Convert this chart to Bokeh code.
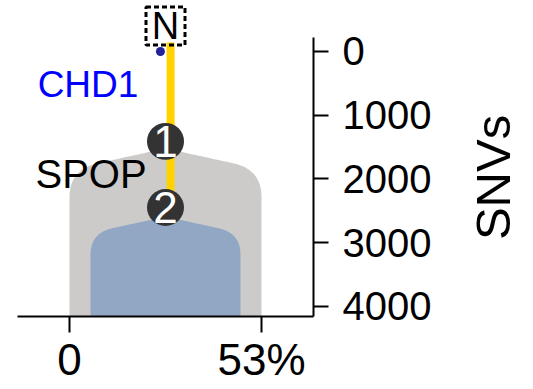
import numpy as np
from bokeh.plotting import figure
from bokeh.models import Range1d, FixedTicker, ColumnDataSource
from bokeh.core.properties import value
from bokeh.embed import file_html
from bokeh.resources import INLINE

# ---- data ----
clone_center = [26.5, 26.5]          # % position of clone centre
clone_halfwidth = [26.5, 20.7]       # half of clone fraction (%)
clone_start_snv = [1520, 2590]       # SNVs where clone shape begins
clone_colors = ["#cccbc9", "#91a7c4"]
node_x = [26.5, 26.5]
node_snv = [1410, 2447]
node_labels = ["1", "2"]
trunk_x = 27.9
trunk_top_snv = -140
normal_x = 26.5
normal_snv = -400
driver_labels = ["CHD1", "SPOP"]
driver_colors = ["#0000ff", "#000000"]
driver_x = [-8.8, -9.4]
driver_snv = [518, 1922]
driver_sizes = ["37px", "40px"]
chd1_dot_x = [25.1]
chd1_dot_snv = [0]
x_ticks = [0, 53]
x_tick_labels = {0: "0", 53: "53%"}
y_ticks = [0, 1000, 2000, 3000, 4000]

FONT = "Liberation Sans"
X_LEFT, X_RIGHT = -19.05, 128.09
Y_TOP, Y_BOTTOM = -800, 5302
X_AXIS_START, X_AXIS_END = -14.35, 67.35
Y_AXIS_START, Y_AXIS_END = -220, 4157

p = figure(width=533, height=389, output_backend="svg", toolbar_location=None,
           x_range=Range1d(X_LEFT, X_RIGHT), y_range=Range1d(Y_BOTTOM, Y_TOP),
           y_axis_location="right", min_border_left=0, min_border_right=0,
           min_border_top=0, min_border_bottom=0)
p.outline_line_color = None
p.grid.visible = False
p.background_fill_color = "white"


def clone_shape(c, hw, y0, slope_frac=0.71, slope=12.5, bottom=Y_AXIS_END):
    xs_shoulder = c + hw * slope_frac
    y_sh = y0 + slope * (xs_shoulder - c)
    xr = c + hw
    ctrl_y = y_sh + slope * (xr - xs_shoulder)
    end_y = y_sh + (xr - xs_shoulder) * 69
    t = np.linspace(0, 1, 30)
    xl = np.linspace(c, xs_shoulder, 20)
    xs_r = list(xl)
    ys_r = list(y0 + slope * (xl - c))
    bx = (1 - t) ** 2 * xs_shoulder + 2 * (1 - t) * t * xr + t ** 2 * xr
    by = (1 - t) ** 2 * y_sh + 2 * (1 - t) * t * ctrl_y + t ** 2 * end_y
    xs_r += list(bx)
    ys_r += list(by)
    xs_r.append(xr)
    ys_r.append(bottom)
    xs = [2 * c - x for x in xs_r[::-1]] + xs_r
    ys = ys_r[::-1] + ys_r
    return xs, ys


for c, hw, y0, col in zip(clone_center, clone_halfwidth, clone_start_snv, clone_colors):
    xs, ys = clone_shape(c, hw, y0)
    p.patch(xs, ys, fill_color=col, line_color=None)

# CHD1 marker dot
p.scatter(chd1_dot_x, chd1_dot_snv, size=9, fill_color="#22229a", line_color=None)

# trunk
p.segment(x0=[trunk_x], y0=[trunk_top_snv], x1=[trunk_x], y1=[node_snv[-1]],
          line_color="#ffd200", line_width=8)

# normal box
p.rect([normal_x], [normal_snv], width=39, height=38, width_units="screen",
       height_units="screen", fill_color=None, line_color="black",
       line_width=3, line_dash="5 3")
p.text([normal_x], [normal_snv], text=["N"], text_align="center",
       text_baseline="middle", text_font=value(FONT), text_font_size="38px",
       text_color="black")

# nodes
src = ColumnDataSource(dict(x=node_x, y=node_snv, t=node_labels))
p.scatter("x", "y", source=src, size=37, fill_color="#333333", line_color=None)
p.text("x", "y", text="t", source=src, text_align="center", text_baseline="middle",
       text_font=value(FONT), text_font_size="44px", text_color="white")

# driver labels
for lx, ly, lt, lc, ls in zip(driver_x, driver_snv, driver_labels, driver_colors, driver_sizes):
    p.text([lx], [ly], text=[lt], text_color=lc, text_align="left",
           text_baseline="middle", text_font=value(FONT), text_font_size=ls)

# axes
xa = p.xaxis[0]
xa.fixed_location = Y_AXIS_END
xa.bounds = (X_AXIS_START, X_AXIS_END)
xa.ticker = FixedTicker(ticks=x_ticks)
xa.major_label_overrides = x_tick_labels
xa.minor_tick_line_color = None
xa.major_tick_out = 16
xa.major_tick_in = 0
xa.major_label_standoff = 2
xa.axis_line_width = 2
xa.major_tick_line_width = 2
xa.major_label_text_font = FONT
xa.major_label_text_font_size = "44px"
xa.major_label_text_color = "black"

ya = p.yaxis[0]
ya.fixed_location = X_AXIS_END
ya.bounds = (Y_AXIS_START, Y_AXIS_END)
ya.ticker = FixedTicker(ticks=y_ticks)
ya.minor_tick_line_color = None
ya.major_tick_out = 15
ya.major_tick_in = 0
ya.major_label_standoff = 14
ya.axis_line_width = 2
ya.major_tick_line_width = 2
ya.major_label_text_font = FONT
ya.major_label_text_font_size = "40px"
ya.major_label_text_color = "black"

# axis title
p.text([117.0], [1976], text=["SNVs"], angle=np.pi / 2, text_align="center",
       text_baseline="middle", text_font=value(FONT), text_font_size="49px",
       text_color="black")

open("out.html", "w").write(file_html(p, INLINE))
